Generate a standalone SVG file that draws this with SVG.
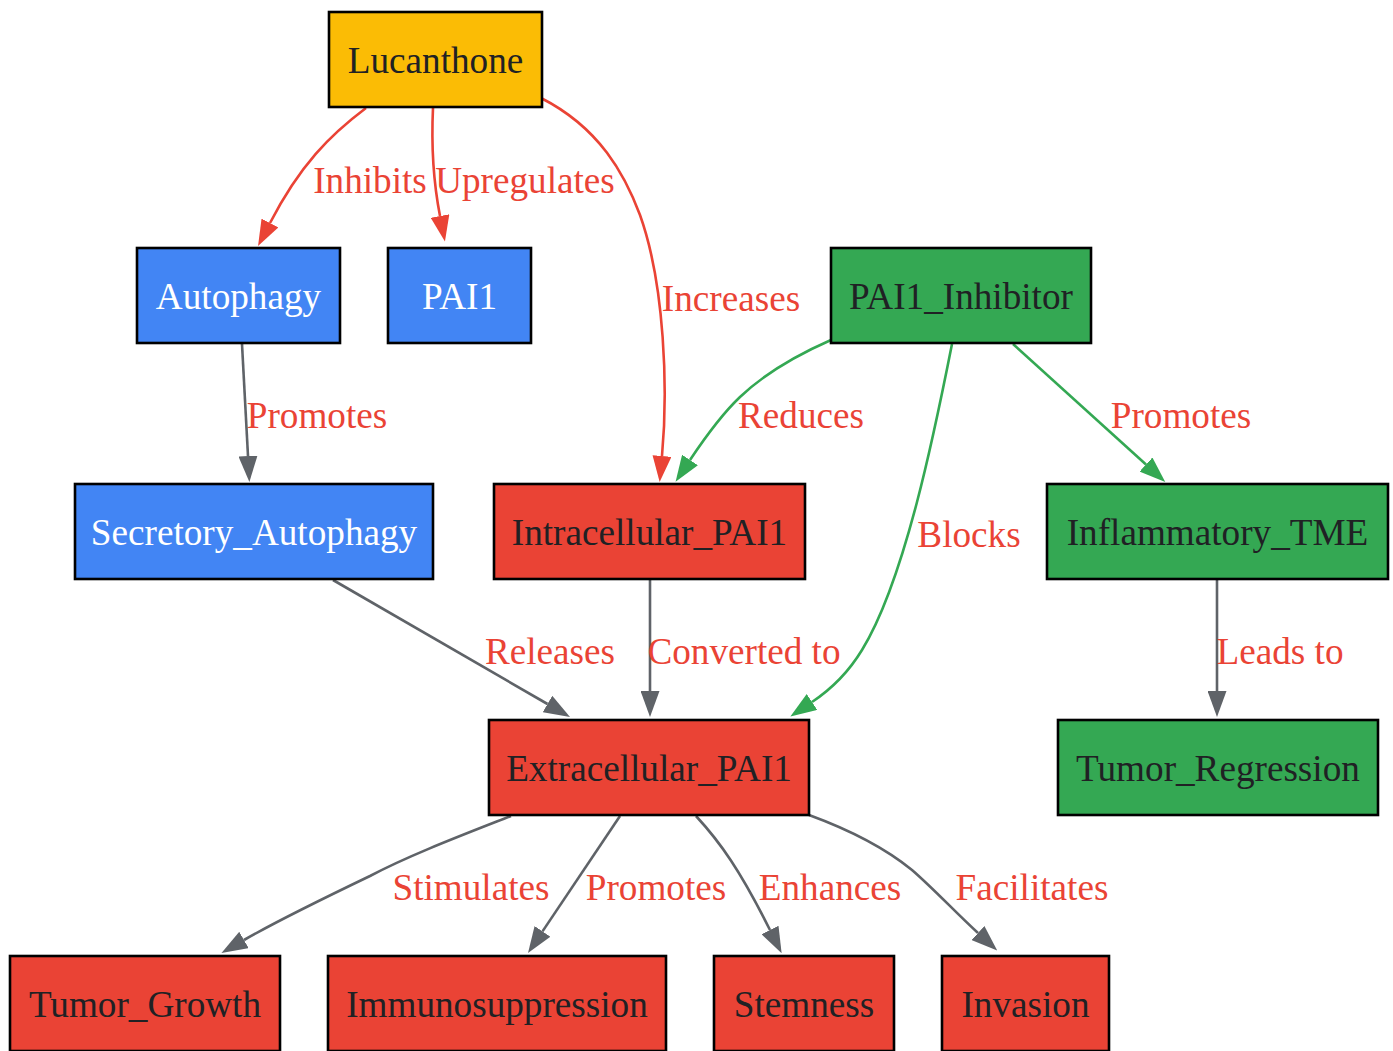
<svg xmlns="http://www.w3.org/2000/svg" width="1393" height="1051" viewBox="0 0 1393 1051">
<style>
.n rect{stroke:#000;stroke-width:2.6}
.n text{font-family:"Liberation Serif","Times New Roman",serif;font-size:37.2px;text-anchor:middle;fill:#202124}
.blue rect{fill:#4285F4}
.blue text{fill:#fff}
.red rect{fill:#EA4335}
.green rect{fill:#34A853}
.yellow rect{fill:#FBBC05}
.e path{fill:none;stroke-width:2.6}
.e .r{stroke:#EA4335;marker-end:url(#ar)}
.e .g{stroke:#5F6368;marker-end:url(#ag)}
.e .gr{stroke:#34A853;marker-end:url(#agr)}
.e text{font-family:"Liberation Serif","Times New Roman",serif;font-size:37.2px;text-anchor:middle;fill:#EA4335}
</style>
<defs>
<marker id="ar" viewBox="0 0 26 19" refX="0" refY="9.5" markerWidth="26" markerHeight="19" markerUnits="userSpaceOnUse" orient="auto"><path d="M0,0 L26,9.5 L0,19 z" fill="#EA4335"/></marker>
<marker id="ag" viewBox="0 0 26 19" refX="0" refY="9.5" markerWidth="26" markerHeight="19" markerUnits="userSpaceOnUse" orient="auto"><path d="M0,0 L26,9.5 L0,19 z" fill="#5F6368"/></marker>
<marker id="agr" viewBox="0 0 26 19" refX="0" refY="9.5" markerWidth="26" markerHeight="19" markerUnits="userSpaceOnUse" orient="auto"><path d="M0,0 L26,9.5 L0,19 z" fill="#34A853"/></marker>
</defs>
<rect width="1393" height="1051" fill="#fff"/>
<g id="edges" class="e">
<path class="r" d="M366,108 C330,135 300,165 270,223"/>
<text x="370" y="193">Inhibits</text>
<path class="r" d="M433,108 C431,150 434,185 440,216"/>
<text x="525" y="193">Upregulates</text>
<path class="r" d="M541,98 C600,128 625,175 640,215 C665,285 668,390 662,456"/>
<text x="731" y="311">Increases</text>
<path class="g" d="M242,344 L248,456"/>
<text x="317" y="428">Promotes</text>
<path class="gr" d="M831,340 C790,358 760,378 740,397 C720,416 702,442 690,460"/>
<text x="801" y="428">Reduces</text>
<path class="gr" d="M1013,344 L1146,464.5"/>
<text x="1181" y="428">Promotes</text>
<path class="gr" d="M952,344 C935,430 905,580 862,650 C848,673 830,690 812,702"/>
<text x="969" y="547">Blocks</text>
<path class="g" d="M333,580 L547.5,704"/>
<text x="550" y="664">Releases</text>
<path class="g" d="M650,580 L650,691"/>
<text x="744" y="664">Converted to</text>
<path class="g" d="M1217,580 L1217,691"/>
<text x="1280" y="664">Leads to</text>
<path class="g" d="M511,816 C460,836 410,855 370,876 C320,900 270,925 244,940"/>
<text x="471" y="900">Stimulates</text>
<path class="g" d="M620,816 L542.5,931.4"/>
<text x="656" y="900">Promotes</text>
<path class="g" d="M696,816 C720,842 740,870 770,930"/>
<text x="830" y="900">Enhances</text>
<path class="g" d="M809,815 C850,830 885,848 912,870 C935,890 955,912 978,933"/>
<text x="1032" y="900">Facilitates</text>
</g>
<g id="Lucanthone" class="n yellow"><rect x="329" y="12" width="213" height="95"/><text x="435.5" y="73">Lucanthone</text></g>
<g id="Autophagy" class="n blue"><rect x="137" y="248" width="203" height="95"/><text x="238.5" y="309">Autophagy</text></g>
<g id="PAI1" class="n blue"><rect x="388" y="248" width="143" height="95"/><text x="459.5" y="309">PAI1</text></g>
<g id="PAI1_Inhibitor" class="n green"><rect x="831" y="248" width="260" height="95"/><text x="961" y="309">PAI1_Inhibitor</text></g>
<g id="Secretory_Autophagy" class="n blue"><rect x="75" y="484" width="358" height="95"/><text x="254" y="545">Secretory_Autophagy</text></g>
<g id="Intracellular_PAI1" class="n red"><rect x="494" y="484" width="311" height="95"/><text x="649.5" y="545">Intracellular_PAI1</text></g>
<g id="Inflammatory_TME" class="n green"><rect x="1047" y="484" width="341" height="95"/><text x="1217.5" y="545">Inflammatory_TME</text></g>
<g id="Extracellular_PAI1" class="n red"><rect x="489" y="720" width="320" height="95"/><text x="649" y="781">Extracellular_PAI1</text></g>
<g id="Tumor_Regression" class="n green"><rect x="1058" y="720" width="320" height="95"/><text x="1218" y="781">Tumor_Regression</text></g>
<g id="Tumor_Growth" class="n red"><rect x="10" y="956" width="270" height="95"/><text x="145" y="1017">Tumor_Growth</text></g>
<g id="Immunosuppression" class="n red"><rect x="328" y="956" width="338" height="95"/><text x="497" y="1017">Immunosuppression</text></g>
<g id="Stemness" class="n red"><rect x="714" y="956" width="180" height="95"/><text x="804" y="1017">Stemness</text></g>
<g id="Invasion" class="n red"><rect x="942" y="956" width="167" height="95"/><text x="1025.5" y="1017">Invasion</text></g>
</svg>
